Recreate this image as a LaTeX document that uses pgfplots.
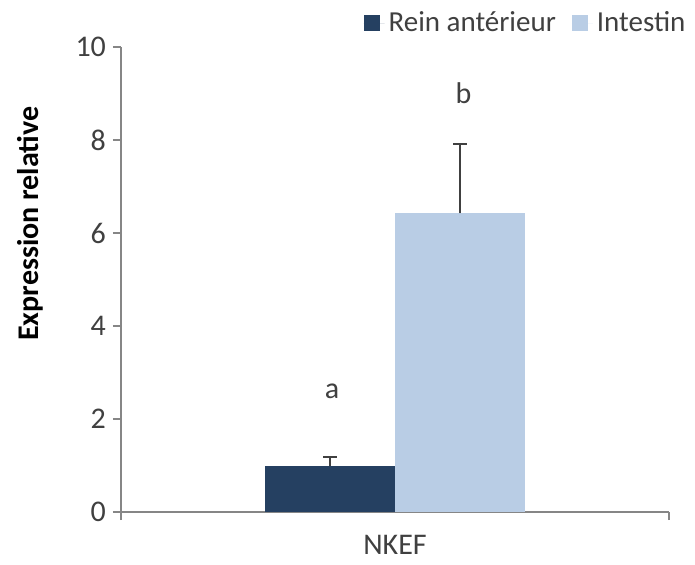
\documentclass[border=0pt]{standalone}
\usepackage{pgfplots}
\pgfplotsset{compat=1.18}
\usepackage{fontspec}
\setmainfont{Carlito}
\definecolor{darkbar}{HTML}{254061}
\definecolor{lightbar}{HTML}{B9CDE5}
\definecolor{axgray}{HTML}{868686}
\definecolor{txtgray}{HTML}{404040}
\begin{document}
\begin{tikzpicture}[font=\fontsize{15}{18}\selectfont]
\begin{axis}[
  scale only axis,
  width=274pt, height=232.5pt,
  ybar=0pt, bar width=65pt,
  xmin=-1, xmax=1, ymin=0, ymax=10,
  axis lines*=left,
  axis line style={axgray, line width=0.75pt},
  xtick={-1,1}, xticklabels={},
  extra x ticks={0}, extra x tick labels={NKEF},
  extra x tick style={major tick length=0pt, tick label style={yshift=-8pt}},
  ytick={0,2,4,6,8,10},
  tick align=outside, major tick length=4pt,
  tick style={axgray, line width=0.75pt},
  tick label style={txtgray},
  /pgf/number format/assume math mode=true,
  ylabel={\bfseries Expression relative},
  every axis y label/.style={at={(axis description cs:-0.166,0.62)}, rotate=90, anchor=center},
  legend columns=2,
  legend style={draw=none, fill=none, inner sep=0pt, at={(rel axis cs:1.038,1.085)}, anchor=north east,
    font=\fontsize{14.5}{17}\selectfont,
    /tikz/every even column/.append style={column sep=6pt}, text=txtgray},
  legend image code/.code={\fill[#1] (0pt,-4pt) rectangle (8pt,4pt); \path (0pt,0pt) -- (10.5pt,0pt);},
  error bars/y dir=plus, error bars/y explicit,
  error bars/error bar style={txtgray, line width=0.8pt},
  error bars/error mark options={rotate=90, mark size=3.5pt, txtgray, line width=0.8pt},
]
\addplot[fill=darkbar, draw=none] coordinates {(0,1.00) +- (0,0.18)};
\addplot[fill=lightbar, draw=none] coordinates {(0,6.42) +- (0,1.50)};
\legend{Rein antérieur, Intestin}
\node[txtgray] at (axis cs:-0.23,2.6) {a};
\node[txtgray] at (axis cs:0.25,9.0) {b};
\end{axis}
\pgfresetboundingbox
\path[use as bounding box] (-60.5pt,-26pt) rectangle (287pt,256pt);
\end{tikzpicture}
\end{document}
